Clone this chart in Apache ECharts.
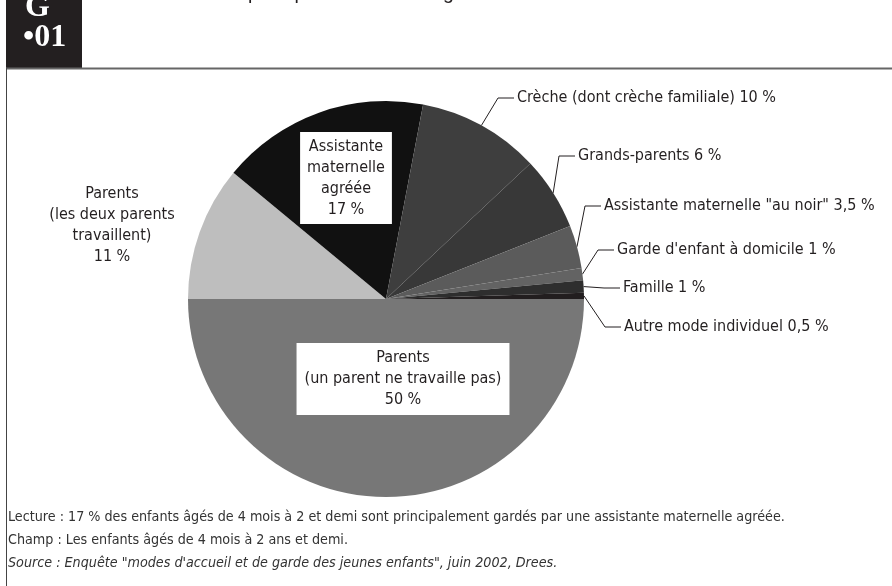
<!DOCTYPE html>
<html>
<head>
<meta charset="utf-8">
<script src="https://cdn.jsdelivr.net/npm/echarts@6/dist/echarts.min.js"></script>
<style>
  html, body { margin: 0; padding: 0; background: #fff; }
  #chart { width: 892px; height: 586px; }
</style>
</head>
<body>
<div id="chart"></div>
<script>
// modes de garde, dans l'ordre des secteurs (sens horaire depuis la gauche)
const modeNames = [
  'Parents\n(les deux parents\ntravaillent)',
  'Assistante\nmaternelle\nagréée',
  'Crèche (dont crèche familiale)',
  'Grands-parents',
  'Assistante maternelle "au noir"',
  "Garde d'enfant à domicile",
  'Famille',
  'Autre mode individuel',
  'Parents\n(un parent ne travaille pas)'
];
const shares = [11, 17, 10, 6, 3.5, 1, 1, 0.5, 50];

const titleText = "Mode d'accueil principal des enfants âgés de 4 mois à 2 ans et demi";
const noteLines = [
  'Lecture : 17 % des enfants âgés de 4 mois à 2 et demi sont principalement gardés par une assistante maternelle agréée.',
  'Champ : Les enfants âgés de 4 mois à 2 ans et demi.',
  'Source : Enquête "modes d\'accueil et de garde des jeunes enfants", juin 2002, Drees.'
];

// styles
const sliceColors = ['#bebebe', '#111111', '#3e3e3e', '#383838', '#5b5b5b', '#636363', '#2e2e2e', '#221e1f', '#777777'];
const labelAt = [[112, 225, 'center'], [346, 178, 'center'], [517, 98, 'left'], [578, 156, 'left'],
  [604, 206, 'left'], [617, 250, 'left'], [623, 288, 'left'], [624, 327, 'left'], [403, 379, 'center']];
const boxed = [false, true, false, false, false, false, false, false, true];
const leader = [false, false, true, true, true, true, true, true, false];
const ink = '#231f20';
const narrow = '"Liberation Sans Narrow", "DejaVu Sans Condensed", "Liberation Sans", sans-serif';

const chart = echarts.init(document.getElementById('chart'));

const data = shares.map((v, i) => {
  const item = { name: modeNames[i], value: v, itemStyle: { color: sliceColors[i] } };
  if (boxed[i]) {
    item.label = { position: 'inside', backgroundColor: '#fff', padding: i === 1 ? [5, 7, 3, 7] : [5, 8, 4, 8] };
    item.labelLine = { show: false };
  } else if (!leader[i]) {
    item.labelLine = { show: false };
  }
  return item;
});

const option = {
  animation: false,
  graphic: [
    { type: 'rect', shape: { x: 6, y: 0, width: 76, height: 68 }, style: { fill: ink } },
    { type: 'text', style: { x: 25, y: -8, text: 'G', fill: '#fff', font: 'bold 32px "Liberation Serif", serif' } },
    { type: 'text', style: { x: 23, y: 22, text: '•01', fill: '#fff', font: 'bold 32px "Liberation Serif", serif' } },
    { type: 'text', style: { x: 113, y: -16.5, text: titleText, fill: ink, font: '19.5px "Liberation Sans", Arial, sans-serif' } },
    { type: 'line', shape: { x1: 6, y1: 68.5, x2: 892, y2: 68.5 }, style: { stroke: '#666', lineWidth: 2 } },
    { type: 'line', shape: { x1: 6.5, y1: 68, x2: 6.5, y2: 586 }, style: { stroke: '#444', lineWidth: 1 } },
    { type: 'text', style: { x: 8, y: 517, text: noteLines[0], fill: '#333', font: '14.2px ' + narrow, verticalAlign: 'middle' } },
    { type: 'text', style: { x: 8, y: 540, text: noteLines[1], fill: '#333', font: '14.2px ' + narrow, verticalAlign: 'middle' } },
    { type: 'text', style: { x: 8, y: 563, text: noteLines[2], fill: '#333', font: 'italic 14.2px ' + narrow, verticalAlign: 'middle' } }
  ],
  series: [{
    type: 'pie',
    center: [386, 299],
    radius: 198,
    startAngle: 180,
    clockwise: true,
    avoidLabelOverlap: false,
    data: data,
    label: {
      show: true,
      position: 'outside',
      color: ink,
      fontFamily: narrow,
      fontSize: 16,
      lineHeight: 21,
      align: 'center',
      formatter: p => {
        const pct = String(p.value).replace('.', ',') + ' %';
        return p.name.indexOf('\n') >= 0 ? p.name + '\n' + pct : p.name + ' ' + pct;
      }
    },
    labelLine: { show: true, lineStyle: { color: ink, width: 1 } },
    labelLayout: p => {
      const [x, y, align] = labelAt[p.dataIndex];
      const out = { x: x, y: y, align: align, verticalAlign: 'middle' };
      if (leader[p.dataIndex] && p.labelLinePoints) {
        out.labelLinePoints = [p.labelLinePoints[0], [x - 19, y], [x - 3, y]];
      }
      return out;
    }
  }]
};

chart.setOption(option);
</script>
</body>
</html>
